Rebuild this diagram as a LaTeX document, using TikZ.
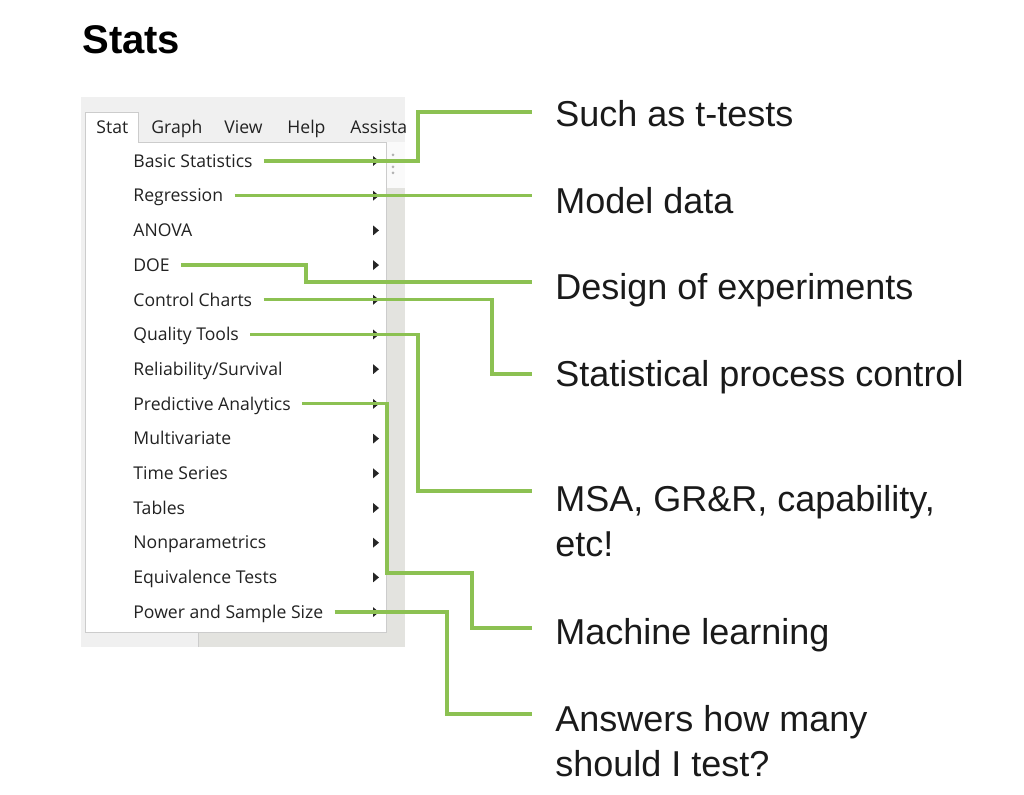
\documentclass[tikz,border=0pt]{standalone}
\usepackage{fontspec}
\setmainfont{Liberation Sans}
\newfontfamily\uifont{Open Sans}
\usetikzlibrary{calc}
\definecolor{linkgreen}{RGB}{140,193,82}
\definecolor{shotbg}{RGB}{240,240,240}
\definecolor{stripgray}{RGB}{227,227,223}
\definecolor{menuedge}{RGB}{204,204,204}
\definecolor{uitext}{RGB}{34,34,34}
\definecolor{notetext}{RGB}{26,26,26}
\begin{document}
\begin{tikzpicture}[x=0.5pt,y=-0.5pt,line join=miter]
\tikzset{item/.style={font=\uifont\fontsize{8.8}{10}\selectfont,text=uitext,anchor=west,inner xsep=5.5pt,inner ysep=0pt,text height=6.3pt,text depth=0pt},
	bar/.style={item,inner xsep=0pt},
	note/.style={font=\fontsize{18}{22.5}\selectfont,text=notetext,anchor=north west,align=left,inner xsep=11.5pt,inner ysep=0pt},
	link/.style={draw=linkgreen,line width=1.6pt},
	tip/.style={fill=black!85}}
\useasboundingbox (0,0) rectangle (1024,795);
\node[font=\bfseries\fontsize{20}{24}\selectfont,anchor=west,inner sep=0pt] (title) at (82,40) {Stats};
\fill[shotbg] (81,97) rectangle (405,647);
\fill[stripgray] (386,188) rectangle (405,647);
\fill[stripgray] (198,632) rectangle (405,647);
\draw[menuedge] (198,632)--(198,647);
\fill[black!2] (386,142) rectangle (405,188);
\foreach \y in {155,167,173}
	\fill[black!30] (393,\y) circle (1.5);
\draw[menuedge,fill=white] (85,632)--(85,112)--(138,112)--(138,142)--(386,142)--(386,632)--cycle;
\foreach \t/\x [count=\i] in {Stat/96,Graph/151,View/224,Help/287,Assista/350}
	\node[bar] (bar\i) at (\x,127) {\t};
\foreach \t [count=\i] in {Basic Statistics,Regression,ANOVA,DOE,Control Charts,Quality Tools,Reliability/Survival,Predictive Analytics,Multivariate,Time Series,Tables,Nonparametrics,Equivalence Tests,Power and Sample Size}{
	\node[item] (m\i) at (122,{161+34.7*(\i-1)}) {\t};
	\fill[tip] (373,{156+34.7*(\i-1)})--++(6,5)--++(-6,5)--cycle;}
\node[note] (c1) at (532,100) {Such as t-tests};
\node[note] (c2) at (532,187) {Model data};
\node[note] (c3) at (532,273) {Design of experiments};
\node[note] (c4) at (532,360) {Statistical process control};
\node[note] (c5) at (532,485) {MSA, GR\&R, capability,\\etc!};
\node[note] (c6) at (532,618) {Machine learning};
\node[note] (c7) at (532,705) {Answers how many\\should I test?};
\draw[link] (m1.east) -| ($(c1.north west)+(-114,12)$)--($(c1.north west)+(0,12)$);
\draw[link] (m2.east)--(m2.east -| c2.west);
\draw[link] (m4.east) -| ($(c3.north west)+(-226,9)$)--($(c3.north west)+(0,9)$);
\draw[link] (m5.east) -| ($(c4.north west)+(-40,14)$)--($(c4.north west)+(0,14)$);
\draw[link] (m6.east) -| ($(c5.north west)+(-114,6)$)--($(c5.north west)+(0,6)$);
\draw[link] (m8.east) -| ($(c6.north west)+(-145,-45)$) -| ($(c6.north west)+(-60,10)$)--($(c6.north west)+(0,10)$);
\draw[link] (m14.east) -| ($(c7.north west)+(-85,9)$)--($(c7.north west)+(0,9)$);
\end{tikzpicture}
\end{document}
